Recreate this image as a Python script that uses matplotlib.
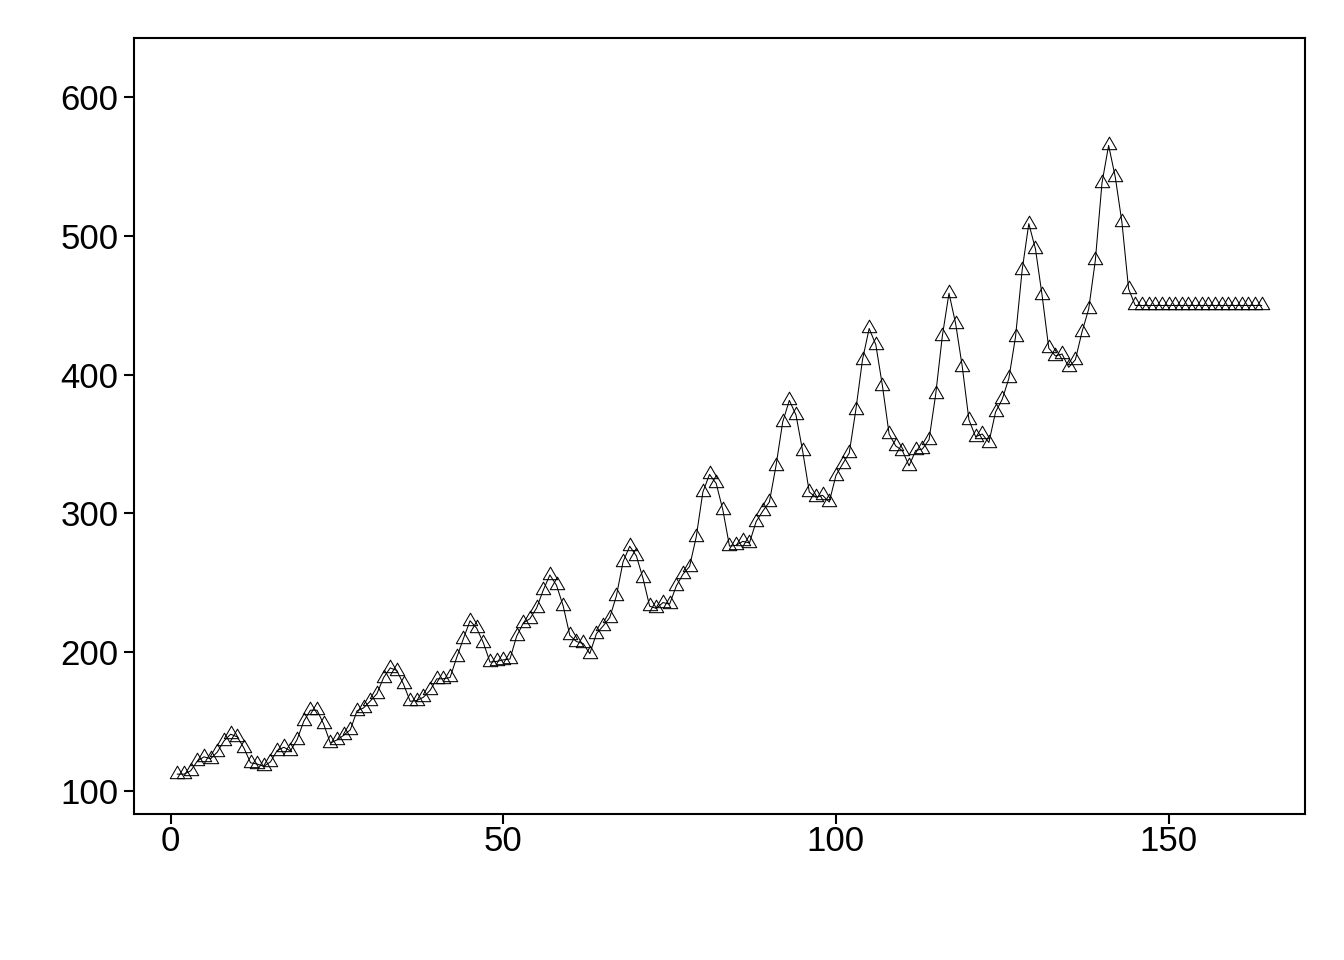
import matplotlib
matplotlib.use("Agg")
import matplotlib.pyplot as plt
from matplotlib.path import Path

# Smoothed series (periods 1..144) followed by the flat forecast (145..164)
fitted = [
    112.0, 112.0, 114.4, 121.4, 124.5, 123.1, 127.9, 135.9, 140.8, 138.9, 130.9, 120.2,
    119.3, 117.6, 120.9, 129.0, 131.4, 128.8, 136.9, 150.1, 158.1, 158.1, 148.0, 134.4,
    136.7, 140.0, 144.0, 157.6, 159.8, 164.7, 170.0, 181.6, 188.6, 186.7, 176.8, 164.5,
    165.1, 167.5, 172.5, 180.7, 180.8, 181.7, 196.2, 209.7, 222.6, 217.2, 206.7, 192.8,
    193.3, 194.4, 195.0, 211.4, 220.9, 224.1, 231.7, 244.6, 255.6, 248.1, 233.3, 212.0,
    207.6, 206.2, 198.9, 213.3, 218.8, 224.9, 240.5, 265.1, 276.3, 269.4, 253.2, 233.1,
    231.5, 235.7, 234.6, 247.6, 256.1, 261.7, 283.0, 315.4, 328.1, 321.6, 302.6, 276.4,
    277.0, 279.8, 278.7, 294.0, 301.6, 308.2, 334.5, 365.9, 381.5, 370.9, 345.0, 315.4,
    311.6, 313.0, 308.2, 327.3, 335.6, 343.4, 374.8, 410.9, 433.3, 421.6, 391.8, 357.1,
    348.6, 345.2, 334.3, 345.4, 346.4, 353.1, 385.8, 427.9, 458.7, 436.8, 405.7, 367.4,
    355.3, 357.2, 351.1, 373.1, 382.2, 397.3, 427.2, 475.5, 508.9, 490.6, 457.1, 419.1,
    413.5, 414.9, 405.3, 410.8, 430.9, 447.3, 482.4, 538.2, 565.3, 542.4, 509.8, 461.9,
]
forecast = [
    449.9, 449.9, 449.9, 449.9, 449.9, 449.9, 449.9, 449.9, 449.9, 449.9,
    449.9, 449.9, 449.9, 449.9, 449.9, 449.9, 449.9, 449.9, 449.9, 449.9,
]
x_ticks = [0, 50, 100, 150]
y_ticks = [100, 200, 300, 400, 500, 600]
y_range = [104, 622]

values = fitted + forecast
index = list(range(1, len(values) + 1))

plt.rcParams['font.family'] = ['Liberation Sans', 'DejaVu Sans']

fig = plt.figure(figsize=(13.44, 9.6), dpi=100)
ax = fig.add_axes([134 / 1344, 1 - 814 / 960, (1305 - 134) / 1344, (814 - 38) / 960])

# R-style open triangle (centroid-centred)
tri = Path([(0, 1.555), (1.347, -0.778), (-1.347, -0.778), (0, 1.555)],
           [Path.MOVETO, Path.LINETO, Path.LINETO, Path.CLOSEPOLY])

ax.plot(index, values, color='black', linewidth=0.75,
        marker=tri, markersize=12, markerfacecolor='none',
        markeredgecolor='black', markeredgewidth=0.75)

n = len(values)
xpad = (n - 1) * 0.04
ax.set_xlim(1 - xpad, n + xpad)
ypad = (y_range[1] - y_range[0]) * 0.04
ax.set_ylim(y_range[0] - ypad, y_range[1] + ypad)

ax.set_xticks(x_ticks)
ax.set_yticks(y_ticks)
ax.tick_params(axis='both', direction='out', length=7.5, width=1.5,
               labelsize=25, colors='black')
ax.tick_params(axis='y', pad=3.5)
ax.tick_params(axis='x', pad=0.5)
for s in ax.spines.values():
    s.set_linewidth(1.5)
    s.set_color('black')

fig.savefig('out.png', dpi=100, facecolor='white')
